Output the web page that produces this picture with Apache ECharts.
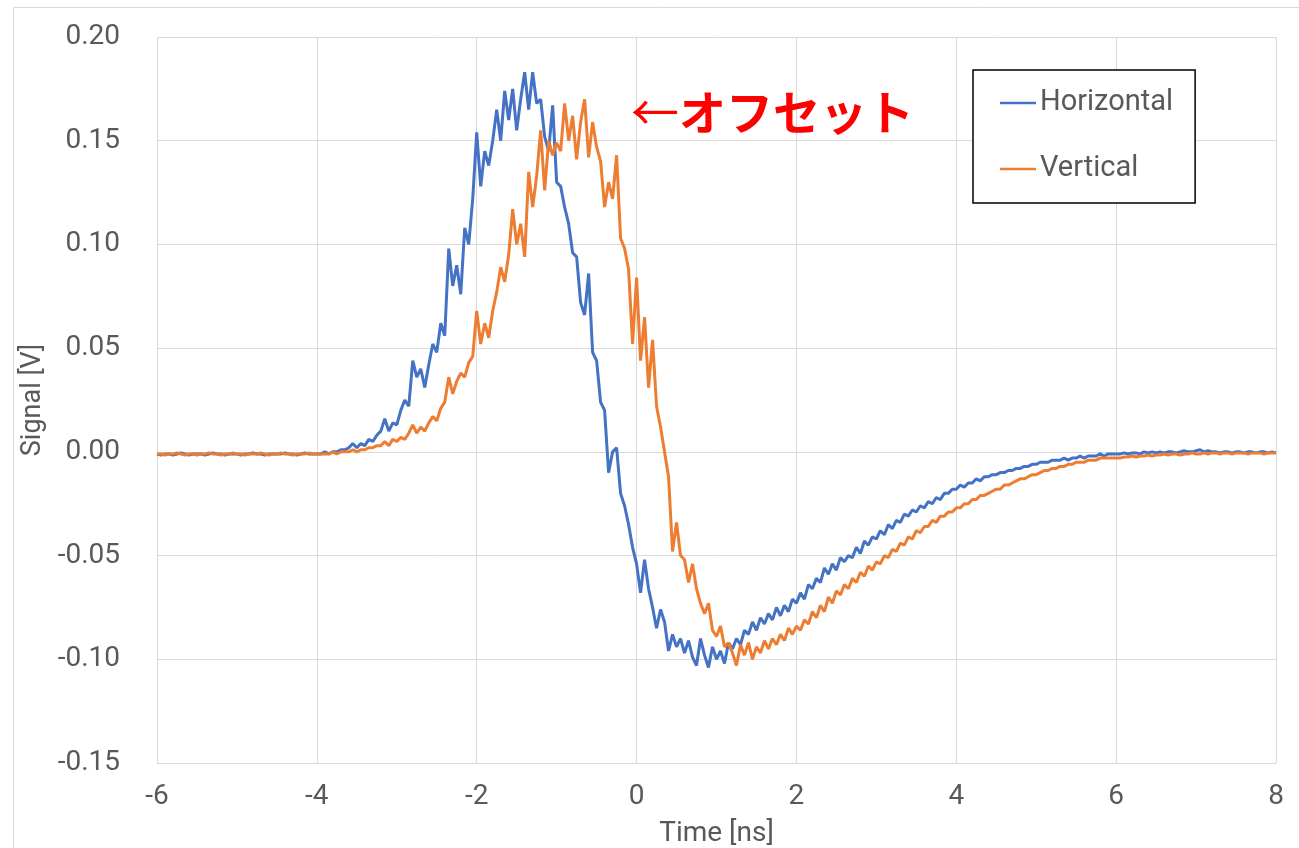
<!DOCTYPE html>
<html>
<head>
<meta charset="utf-8">
<script src="https://cdn.jsdelivr.net/npm/echarts@6.0.0/dist/echarts.min.js"></script>
<style>
html,body{margin:0;padding:0;background:#fff;}
#c{width:1299px;height:848px;}
</style>
</head>
<body>
<div id="c"></div>
<script>
// ---- data ----
const seriesNames = ["Horizontal", "Vertical"];
const xTicks = [-6, -4, -2, 0, 2, 4, 6, 8];
const yTicks = [-0.15, -0.10, -0.05, 0.00, 0.05, 0.10, 0.15, 0.20];
const sampleStep = 0.05;           // ns between read samples
const headStart = -6.0, mainStart = -4.0, tailStart = 6.05;

const horizontalHead = [-0.001,-0.0015,-0.001,-0.001,-0.0015,-0.001,-0.0005,-0.001,-0.0015,-0.001,
 -0.001,-0.001,-0.0015,-0.001,-0.0005,-0.001,-0.001,-0.0015,-0.001,-0.001,
 -0.001,-0.0015,-0.001,-0.001,-0.0005,-0.001,-0.001,-0.0015,-0.001,-0.001,
 -0.001,-0.001,-0.0005,-0.001,-0.001,-0.0015,-0.001,-0.0005,-0.001,-0.001];
const horizontalMain = [
 -0.001,-0.001,0.000,-0.001,0.000,0.000,0.001,0.001,0.002,0.004,
 0.002,0.004,0.003,0.006,0.005,0.008,0.010,0.016,0.010,0.014,
 0.013,0.020,0.025,0.022,0.044,0.036,0.040,0.031,0.042,0.052,
 0.048,0.062,0.056,0.098,0.080,0.090,0.076,0.108,0.100,0.122,
 0.154,0.128,0.145,0.138,0.150,0.165,0.150,0.174,0.160,0.175,
 0.155,0.170,0.183,0.165,0.183,0.168,0.170,0.152,0.145,0.167,
 0.130,0.128,0.118,0.110,0.096,0.094,0.072,0.066,0.086,0.048,
 0.044,0.024,0.020,-0.010,0.000,0.002,-0.020,-0.026,-0.035,-0.046,
 -0.054,-0.068,-0.052,-0.066,-0.075,-0.085,-0.076,-0.082,-0.096,-0.088,
 -0.094,-0.090,-0.097,-0.091,-0.099,-0.103,-0.090,-0.098,-0.104,-0.094,
 -0.100,-0.096,-0.102,-0.092,-0.095,-0.090,-0.093,-0.086,-0.088,-0.082,
 -0.086,-0.080,-0.083,-0.078,-0.081,-0.075,-0.079,-0.074,-0.077,-0.071,
 -0.073,-0.068,-0.071,-0.064,-0.066,-0.061,-0.063,-0.056,-0.059,-0.054,
 -0.057,-0.051,-0.053,-0.050,-0.051,-0.046,-0.049,-0.043,-0.045,-0.041,
 -0.042,-0.038,-0.040,-0.035,-0.037,-0.033,-0.034,-0.030,-0.031,-0.028,
 -0.029,-0.026,-0.027,-0.024,-0.025,-0.022,-0.023,-0.020,-0.020,-0.018,
 -0.018,-0.016,-0.017,-0.015,-0.015,-0.013,-0.014,-0.012,-0.012,-0.011,
 -0.011,-0.010,-0.010,-0.009,-0.009,-0.008,-0.008,-0.007,-0.007,-0.006,
 -0.006,-0.005,-0.005,-0.005,-0.004,-0.004,-0.004,-0.003,-0.004,-0.003,
 -0.003,-0.002,-0.003,-0.002,-0.002,-0.002,-0.001,-0.002,-0.001,-0.001,
 -0.001];
const horizontalTail = [-0.001,-0.0005,-0.001,-0.0005,-0.0005,-0.001,0,-0.0005,0,-0.0005,
 0,-0.0005,0,0,-0.0005,0,0.0005,0,0,0.0005,
 0.001,0,0.0005,0,0,-0.0005,0,0,-0.0005,0,
 0,-0.0005,0,0,-0.0005,0,0,-0.0005,0,-0.0005];

const verticalHead = [-0.001,-0.001,-0.0015,-0.001,-0.001,-0.0005,-0.001,-0.0015,-0.001,-0.001,
 -0.0015,-0.001,-0.001,-0.0005,-0.001,-0.001,-0.0015,-0.001,-0.001,-0.0005,
 -0.001,-0.001,-0.0015,-0.001,-0.001,-0.001,-0.0005,-0.001,-0.0015,-0.001,
 -0.001,-0.0005,-0.001,-0.001,-0.0015,-0.001,-0.001,-0.001,-0.0005,-0.001];
const verticalMain = [
 -0.001,-0.001,-0.001,-0.001,0.000,-0.001,0.000,0.000,0.000,0.001,
 0.000,0.001,0.001,0.002,0.002,0.003,0.003,0.005,0.003,0.006,
 0.005,0.007,0.006,0.009,0.013,0.009,0.012,0.010,0.014,0.017,
 0.015,0.021,0.024,0.036,0.028,0.034,0.038,0.036,0.043,0.046,
 0.068,0.052,0.062,0.055,0.068,0.077,0.089,0.082,0.095,0.117,
 0.100,0.110,0.094,0.135,0.118,0.133,0.155,0.126,0.150,0.143,
 0.149,0.145,0.168,0.150,0.162,0.141,0.159,0.170,0.142,0.159,
 0.147,0.140,0.118,0.130,0.122,0.143,0.103,0.098,0.088,0.052,
 0.084,0.044,0.065,0.031,0.054,0.022,0.012,0.000,-0.012,-0.048,
 -0.034,-0.050,-0.052,-0.063,-0.054,-0.066,-0.073,-0.078,-0.073,-0.086,
 -0.089,-0.084,-0.094,-0.092,-0.097,-0.103,-0.093,-0.098,-0.092,-0.100,
 -0.094,-0.097,-0.091,-0.095,-0.090,-0.093,-0.088,-0.091,-0.085,-0.088,
 -0.084,-0.086,-0.081,-0.083,-0.077,-0.080,-0.074,-0.077,-0.070,-0.073,
 -0.067,-0.069,-0.064,-0.066,-0.061,-0.063,-0.058,-0.060,-0.055,-0.057,
 -0.053,-0.054,-0.050,-0.051,-0.047,-0.048,-0.044,-0.045,-0.041,-0.042,
 -0.038,-0.039,-0.036,-0.036,-0.033,-0.034,-0.031,-0.031,-0.029,-0.029,
 -0.027,-0.027,-0.025,-0.025,-0.023,-0.023,-0.021,-0.021,-0.020,-0.019,
 -0.018,-0.018,-0.016,-0.016,-0.015,-0.014,-0.013,-0.013,-0.012,-0.011,
 -0.011,-0.010,-0.009,-0.009,-0.008,-0.008,-0.007,-0.007,-0.006,-0.006,
 -0.005,-0.005,-0.005,-0.004,-0.004,-0.004,-0.003,-0.003,-0.003,-0.003,
 -0.003];
const verticalTail = [-0.003,-0.0025,-0.0025,-0.002,-0.0025,-0.002,-0.002,-0.0015,-0.002,-0.0015,
 -0.0015,-0.001,-0.0015,-0.001,-0.001,-0.0015,-0.001,-0.001,-0.0005,-0.001,
 -0.001,-0.0005,-0.001,-0.0005,-0.0005,-0.001,-0.0005,-0.0005,-0.001,-0.0005,
 -0.0005,-0.0005,-0.001,-0.0005,-0.0005,-0.0005,-0.001,-0.0005,-0.0005,-0.0005];

const annotationText = "オフセット";

// ---- build [time, value] pairs ----
function seg(start, vals) {
  return vals.map((v, i) => [+(start + i * sampleStep).toFixed(3), v]);
}
const horizontalData = [].concat(seg(headStart, horizontalHead), seg(mainStart, horizontalMain), seg(tailStart, horizontalTail));
const verticalData = [].concat(seg(headStart, verticalHead), seg(mainStart, verticalMain), seg(tailStart, verticalTail));

const gridCol = '#d9d9d9';
const txtCol = '#595959';
const fam = 'Roboto, "Noto Sans", sans-serif';

const chart = echarts.init(document.getElementById('c'), null, {renderer: 'canvas'});
chart.setOption({
  animation: false,
  backgroundColor: '#ffffff',
  grid: {left: 157, right: 23, top: 37, bottom: 85, containLabel: false, outerBoundsMode: 'none'},
  xAxis: {
    type: 'value', min: xTicks[0], max: xTicks[xTicks.length - 1], interval: 2,
    name: 'Time [ns]', nameLocation: 'middle', nameGap: 57,
    nameTextStyle: {color: txtCol, fontSize: 28, fontFamily: fam},
    axisLine: {show: true, onZero: false, lineStyle: {color: gridCol, width: 1}},
    axisTick: {show: false},
    axisLabel: {color: txtCol, fontSize: 28, fontFamily: fam, margin: 20},
    splitLine: {show: true, lineStyle: {color: gridCol, width: 1}}
  },
  yAxis: {
    type: 'value', min: yTicks[0], max: yTicks[yTicks.length - 1], interval: 0.05,
    name: 'Signal [V]', nameLocation: 'middle', nameGap: 103, nameRotate: 90,
    nameTextStyle: {color: txtCol, fontSize: 27, fontFamily: fam},
    axisLine: {show: true, lineStyle: {color: gridCol, width: 1}},
    axisTick: {show: false},
    axisLabel: {color: txtCol, fontSize: 28, fontFamily: fam, margin: 37,
      formatter: v => v.toFixed(2)},
    splitLine: {show: true, lineStyle: {color: gridCol, width: 1}}
  },
  legend: {
    orient: 'vertical', left: 973, top: 70,
    padding: [18, 22, 19, 27],
    icon: 'rect',
    itemWidth: 36, itemHeight: 2.5, itemGap: 36,
    borderColor: '#000', borderWidth: 1.5, backgroundColor: '#fff',
    textStyle: {color: txtCol, fontSize: 29, fontFamily: fam, lineHeight: 30, padding: [0, 0, 0, -1]},
    data: seriesNames
  },
  series: [
    {name: seriesNames[0], type: 'line', data: horizontalData, showSymbol: false, symbol: 'none',
     lineStyle: {color: '#4472C4', width: 3}, itemStyle: {color: '#4472C4'}, z: 2},
    {name: seriesNames[1], type: 'line', data: verticalData, showSymbol: false, symbol: 'none',
     lineStyle: {color: '#ED7D31', width: 3}, itemStyle: {color: '#ED7D31'}, z: 3}
  ],
  graphic: [
    {type: 'rect', left: 11, top: 5, shape: {width: 1400, height: 900}, silent: true, z: -10,
     style: {fill: 'none', stroke: gridCol, lineWidth: 1}},
    {type: 'text', left: 631, top: 88, z: 10,
     style: {
       text: '{a|←}{b|' + annotationText + '}',
       rich: {
         a: {fontSize: 48, fontFamily: '"Noto Sans CJK JP", sans-serif', fill: '#FF0000', fontWeight: 'normal'},
         b: {fontSize: 47, fontFamily: '"Noto Sans CJK JP", sans-serif', fill: '#FF0000', fontWeight: 'bold'}
       }
     }}
  ]
});
</script>
</body>
</html>
